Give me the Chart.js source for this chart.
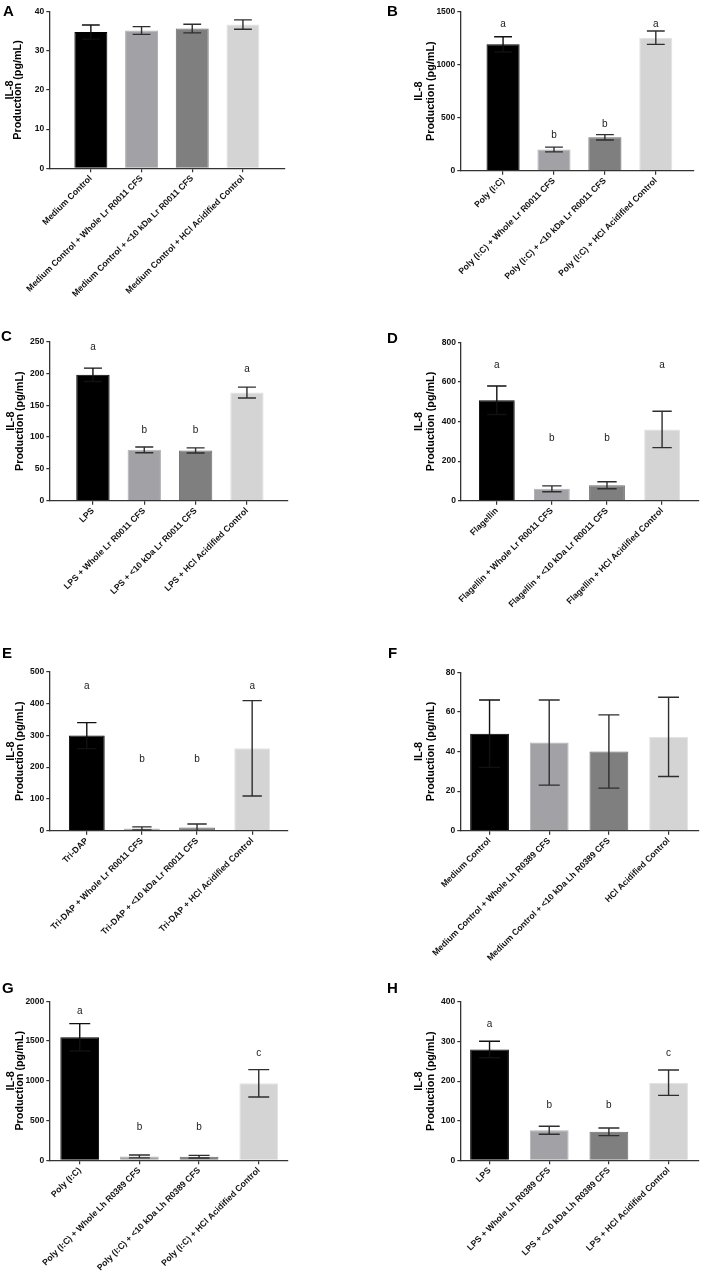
<!DOCTYPE html>
<html><head><meta charset="utf-8">
<script src="https://cdn.jsdelivr.net/npm/chart.js@4.4.1/dist/chart.umd.min.js"></script>
<style>
html,body{margin:0;padding:0;background:#fff;}
body{width:702px;height:1273px;position:relative;overflow:hidden;}
canvas{position:absolute;left:0;top:0;}
</style></head>
<body>
<canvas id="cA"></canvas><canvas id="cB"></canvas><canvas id="cC"></canvas><canvas id="cD"></canvas>
<canvas id="cE"></canvas><canvas id="cF"></canvas><canvas id="cG"></canvas><canvas id="cH"></canvas>
<script>
// ---------- DATA ----------
const labelsA = ["Medium Control","Medium Control + Whole Lr R0011 CFS","Medium Control + <10 kDa Lr R0011 CFS","Medium Control + HCl Acidified Control"];
const meanA = [34.8, 35.2, 35.7, 36.7];
const semA  = [1.8, 1.0, 1.1, 1.2];
const ticksA = [0, 40, 10];

const labelsB = ["Poly (I:C)","Poly (I:C) + Whole Lr R0011 CFS","Poly (I:C) + <10 kDa Lr R0011 CFS","Poly (I:C) + HCl Acidified Control"];
const meanB = [1192, 200, 315, 1255];
const semB  = [72, 22, 25, 63];
const sigB  = ["a","b","b","a"];
const sigYB = [1384, 337, 438, 1384];
const ticksB = [0, 1500, 500];

const labelsC = ["LPS","LPS + Whole Lr R0011 CFS","LPS + <10 kDa Lr R0011 CFS","LPS + HCl Acidified Control"];
const meanC = [198, 80, 79, 170];
const semC  = [10.5, 4.5, 4, 8.5];
const sigC  = ["a","b","b","a"];
const sigYC = [242, 110, 110, 207];
const ticksC = [0, 250, 50];

const labelsD = ["Flagellin","Flagellin + Whole Lr R0011 CFS","Flagellin + <10 kDa Lr R0011 CFS","Flagellin + HCl Acidified Control"];
const meanD = [507, 60, 78, 360];
const semD  = [72, 15, 18, 92];
const sigD  = ["a","b","b","a"];
const sigYD = [685, 315, 315, 685];
const ticksD = [0, 800, 200];

const labelsE = ["Tri-DAP","Tri-DAP + Whole Lr R0011 CFS","Tri-DAP + <10 kDa Lr R0011 CFS","Tri-DAP + HCl Acidified Control"];
const meanE = [299, 7, 10, 259];
const semE  = [41, 5, 11, 150];
const sigE  = ["a","b","b","a"];
const sigYE = [453, 225, 225, 453];
const ticksE = [0, 500, 100];

const labelsF = ["Medium Control","Medium Control + Whole Lh R0389 CFS","Medium Control + <10 kDa Lh R0389 CFS","HCl Acidified Control"];
const meanF = [49, 44.5, 40, 47.4];
const semF  = [17, 21.5, 18.5, 20];
const ticksF = [0, 80, 20];

const labelsG = ["Poly (I:C)","Poly (I:C) + Whole Lh R0389 CFS","Poly (I:C) + <10 kDa Lh R0389 CFS","Poly (I:C) + HCl Acidified Control"];
const meanG = [1547, 48, 45, 968];
const semG  = [172, 18, 17, 172];
const sigG  = ["a","b","b","c"];
const sigYG = [1874, 411, 411, 1342];
const ticksG = [0, 2000, 500];

const labelsH = ["LPS","LPS + Whole Lh R0389 CFS","LPS + <10 kDa Lh R0389 CFS","LPS + HCl Acidified Control"];
const meanH = [280, 76, 72, 196];
const semH  = [21, 10, 9.7, 32];
const sigH  = ["a","b","b","c"];
const sigYH = [343, 138, 138, 270];
const ticksH = [0, 400, 100];

const yTitle = ["IL-8", "Production (pg/mL)"];

// ---------- STYLE / LAYOUT ----------
const FONT = "'Liberation Sans', Arial, Helvetica, sans-serif";
const fills   = ['#000000', '#a2a2a6', '#7f7f7f', '#d4d4d4'];
const borders = ['#000000', '#b2b2b6', '#6c6c6c', '#e2e2e2'];
const W = 702, H = 1460, YW = 30, XH = 160;

const layout = {
  A:{axisX:49.3, top:11.7,  right:285, bottom:168.3, xMin:-0.82, xMax:3.83, t1:10,  t2:18,  lx:3,   ly:16},
  B:{axisX:460.3,top:11.7,  right:694, bottom:170.7, xMin:-0.84, xMax:3.75, t1:419, t2:431, lx:387, ly:16},
  C:{axisX:49.3, top:341.7, right:288, bottom:500.7, xMin:-0.85, xMax:3.80, t1:11,  t2:20,  lx:1,   ly:341},
  D:{axisX:461,  top:342.3, right:699, bottom:500.7, xMin:-0.65, xMax:3.67, t1:419, t2:431, lx:387, ly:343},
  E:{axisX:49.3, top:671.7, right:288, bottom:830.7, xMin:-0.68, xMax:3.65, t1:11,  t2:20,  lx:2,   ly:658},
  F:{axisX:460.3,top:672.3, right:699, bottom:830.7, xMin:-0.49, xMax:3.51, t1:419, t2:431, lx:388, ly:658},
  G:{axisX:49.3, top:1001.3,right:288, bottom:1160.3,xMin:-0.51, xMax:3.49, t1:11,  t2:20,  lx:2,   ly:993},
  H:{axisX:460.3,top:1002,  right:699, bottom:1160.3,xMin:-0.49, xMax:3.51, t1:419, t2:431, lx:387, ly:993}
};

const panels = [
  {id:'A', labels:labelsA, mean:meanA, sem:semA, sig:null, sigY:null, ticks:ticksA},
  {id:'B', labels:labelsB, mean:meanB, sem:semB, sig:sigB, sigY:sigYB, ticks:ticksB},
  {id:'C', labels:labelsC, mean:meanC, sem:semC, sig:sigC, sigY:sigYC, ticks:ticksC},
  {id:'D', labels:labelsD, mean:meanD, sem:semD, sig:sigD, sigY:sigYD, ticks:ticksD},
  {id:'E', labels:labelsE, mean:meanE, sem:semE, sig:sigE, sigY:sigYE, ticks:ticksE},
  {id:'F', labels:labelsF, mean:meanF, sem:semF, sig:null, sigY:null, ticks:ticksF},
  {id:'G', labels:labelsG, mean:meanG, sem:semG, sig:sigG, sigY:sigYG, ticks:ticksG},
  {id:'H', labels:labelsH, mean:meanH, sem:semH, sig:sigH, sigY:sigYH, ticks:ticksH}
];

const extrasPlugin = {
  id: 'extras',
  afterDatasetsDraw(chart) {
    const p = chart.options.plugins.extras;
    const ctx = chart.ctx;
    const meta = chart.getDatasetMeta(0);
    const ys = chart.scales.y;
    ctx.save();
    meta.data.forEach((bar, i) => {
      const m = p.mean[i], s = p.sem[i];
      const x = bar.x;
      const half = bar.width * 0.27;
      const yTop = ys.getPixelForValue(m + s);
      const yBot = ys.getPixelForValue(Math.max(0, m - s));
      ctx.strokeStyle = i === 0 ? '#111' : '#2e2e2e';
      ctx.lineWidth = 1.4;
      ctx.beginPath();
      ctx.moveTo(x, yTop); ctx.lineTo(x, yBot);
      ctx.moveTo(x - half, yTop); ctx.lineTo(x + half, yTop);
      if (m - s > 0) { ctx.moveTo(x - half, yBot); ctx.lineTo(x + half, yBot); }
      ctx.stroke();
      if (p.sig) {
        ctx.fillStyle = '#1a1a1a';
        ctx.font = '10px ' + FONT;
        ctx.textAlign = 'center';
        ctx.textBaseline = 'middle';
        ctx.fillText(p.sig[i], x, ys.getPixelForValue(p.sigY[i]));
      }
    });
    ctx.restore();
  },
  afterDraw(chart) {
    const p = chart.options.plugins.extras;
    const L = p.L;
    const ctx = chart.ctx;
    const cy = (chart.chartArea.top + chart.chartArea.bottom) / 2;
    ctx.save();
    ctx.fillStyle = '#000';
    ctx.font = 'bold 15px ' + FONT;
    ctx.textAlign = 'left';
    ctx.textBaseline = 'alphabetic';
    ctx.fillText(p.id, L.lx, L.ly);
    ctx.font = 'bold 10.8px ' + FONT;
    ctx.textAlign = 'center';
    ctx.textBaseline = 'middle';
    [[yTitle[0], L.t1], [yTitle[1], L.t2]].forEach(([t, x]) => {
      ctx.save();
      ctx.translate(x, cy);
      ctx.rotate(-Math.PI / 2);
      ctx.fillText(t, 0, 0);
      ctx.restore();
    });
    ctx.restore();
  }
};

panels.forEach(p => {
  const L = layout[p.id];
  const canvas = document.getElementById('c' + p.id);
  canvas.width = W; canvas.height = H;
  canvas.style.width = W + 'px'; canvas.style.height = H + 'px';
  const labels = p.labels;
  new Chart(canvas, {
    type: 'bar',
    data: {
      datasets: [{
        data: p.mean.map((v, i) => ({x: i, y: v})),
        backgroundColor: fills,
        borderColor: borders,
        borderWidth: 1,
        barPercentage: 0.65,
        categoryPercentage: 1
      }]
    },
    plugins: [extrasPlugin],
    options: {
      responsive: false,
      animation: false,
      devicePixelRatio: 1,
      layout: {padding: {left: L.axisX - YW, right: W - L.right, top: L.top, bottom: H - L.bottom - XH}},
      plugins: {
        legend: {display: false},
        tooltip: {enabled: false},
        extras: {id: p.id, mean: p.mean, sem: p.sem, sig: p.sig, sigY: p.sigY, L: L}
      },
      scales: {
        x: {
          type: 'linear',
          offset: false,
          min: L.xMin, max: L.xMax,
          afterBuildTicks: s => { s.ticks = labels.map((_, i) => ({value: i})); },
          afterFit: s => { s.height = XH; },
          ticks: {
            autoSkip: false, minRotation: 45, maxRotation: 45, padding: 1,
            color: '#111', font: {family: FONT, size: 8.7, weight: 'bold'},
            callback: v => labels[v]
          },
          grid: {offset: false, drawOnChartArea: false, drawTicks: true, tickLength: 4, color: '#333', lineWidth: 1.2},
          border: {display: true, color: '#333', width: 1.3}
        },
        y: {
          type: 'linear',
          min: p.ticks[0], max: p.ticks[1],
          afterFit: s => { s.width = YW; },
          ticks: {
            stepSize: p.ticks[2], padding: 2,
            color: '#111', font: {family: FONT, size: 8.5, weight: 'bold'},
            callback: v => String(v)
          },
          grid: {drawOnChartArea: false, drawTicks: true, tickLength: 3, color: '#333', lineWidth: 1.2},
          border: {display: true, color: '#333', width: 1.3}
        }
      }
    }
  });
});
</script>
</body></html>
